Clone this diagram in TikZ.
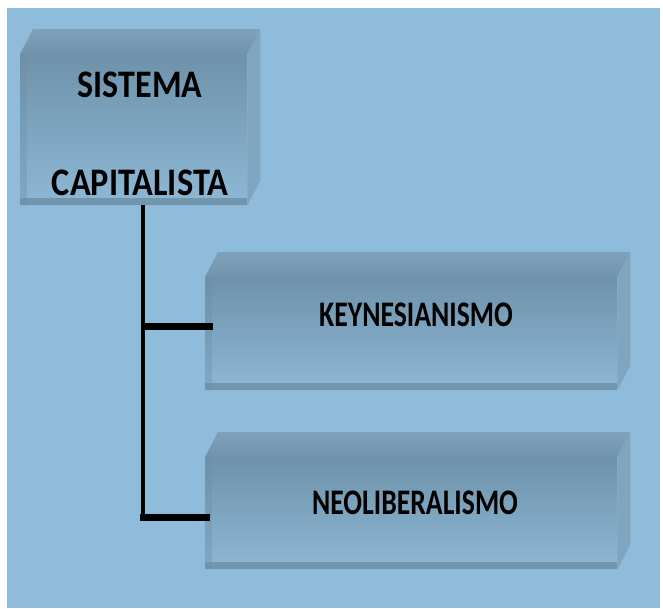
\documentclass[tikz,border=0pt]{standalone}
\usepackage{fontspec}
\setmainfont{Carlito}
\usepackage{graphicx}
\usetikzlibrary{calc}
\definecolor{bgblue}{HTML}{8FBCDB}
\definecolor{facetop}{HTML}{6F92AA}
\definecolor{facebot}{HTML}{8DB8D5}
\definecolor{topface}{HTML}{7FA2BA}
\definecolor{topfacedark}{HTML}{7194AC}
\definecolor{sideface}{HTML}{80A6BF}
\definecolor{edgecol}{HTML}{6C8EA5}
\tikzset{
  frontbox/.style={rectangle, draw=none, top color=facetop, bottom color=facebot, anchor=north west, inner sep=0pt},
  lbl/.style={font=\fontsize{39}{39}\selectfont\bfseries, inner sep=0pt, text=black},
  smalllbl/.style={font=\fontsize{36}{36}\selectfont\bfseries, inner sep=0pt, text=black},
  trunk/.style={line width=4pt, black},
  branch/.style={line width=7pt, black},
}
\newcommand{\cubefaces}[1]{%
  \shade[top color=topface, bottom color=topfacedark] (#1.north west) -- ++(13,-25) -- ($(#1.north east)+(13,-25)$) -- (#1.north east) -- cycle;
  \fill[sideface] (#1.north east) -- ++(13,-25) -- ($(#1.south east)+(13,-25)$) -- (#1.south east) -- cycle;
  \fill[edgecol, opacity=0.8] ($(#1.south west)+(0,-7)$) rectangle (#1.south east);
  \fill[edgecol, opacity=0.35] (#1.north west) rectangle ($(#1.south west)+(7,0)$);
}
\begin{document}
\begin{tikzpicture}[x=1pt,y=-1pt]
\useasboundingbox (0,0) rectangle (663,608);
\fill[white] (0,0) rectangle (663,608);
\fill[bgblue] (7,8) rectangle (660,608);

% top box
\node[frontbox, minimum width=227pt, minimum height=151pt] (sis) at (20,54) {};
\cubefaces{sis}
\node[lbl] (sistxt) at (140,85) {\scalebox{0.87}[1]{SISTEMA}};
\node[lbl] (captxt) at (140,183) {\scalebox{0.88}[1]{CAPITALISTA}};

% Keynesianismo
\node[frontbox, minimum width=412pt, minimum height=113pt] (key) at (205,277) {};
\cubefaces{key}
\node[smalllbl] (keytxt) at (416,315) {\scalebox{0.77}[1]{KEYNESIANISMO}};

% Neoliberalismo
\node[frontbox, minimum width=412pt, minimum height=112pt] (neo) at (205,457) {};
\cubefaces{neo}
\node[smalllbl] (neotxt) at (415,503) {\scalebox{0.77}[1]{NEOLIBERALISMO}};

% connectors
\coordinate (j1) at (143,326);
\coordinate (j2) at (143,517);
\draw[trunk] (sis.south -| j1) -- ([yshift=-2pt]j2);
\draw[branch] ([xshift=-2pt]j1) -- ([xshift=8pt]key.west |- j1);
\draw[branch] ([xshift=-3pt]j2) -- ([xshift=5pt]neo.west |- j2);
\end{tikzpicture}
\end{document}
